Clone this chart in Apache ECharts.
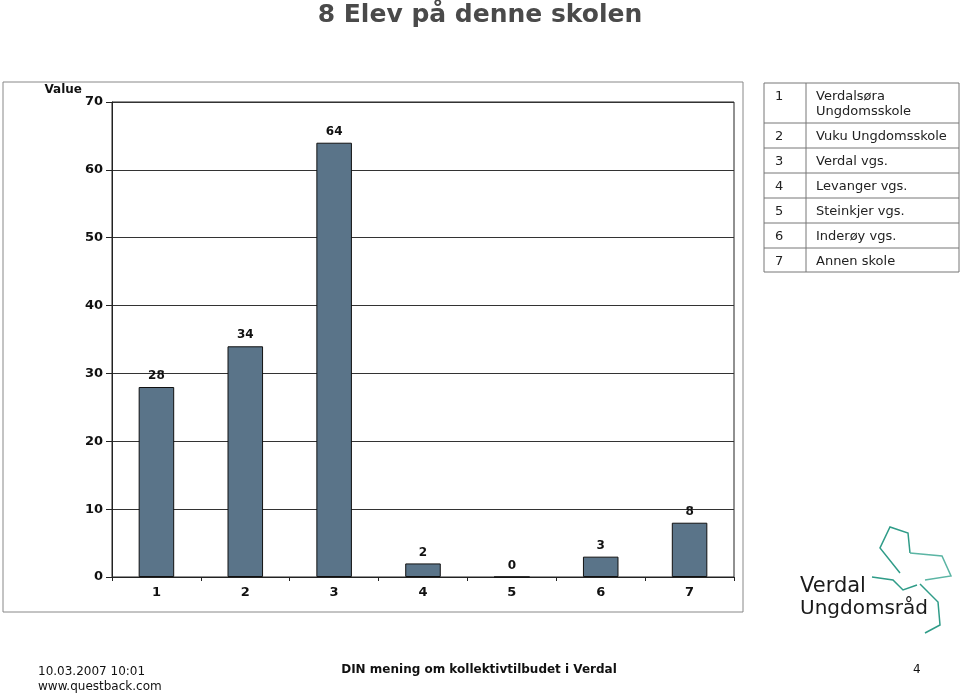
<!DOCTYPE html>
<html>
<head>
<meta charset="utf-8" />
<title>8 Elev på denne skolen</title>
<style>
html, body { margin: 0; width: 100%; height: 100%; overflow: hidden; background: #fff; }
#main { width: 960px; height: 693px; }
</style>
</head>
<body>
<div id="main"></div>
<script src="https://cdn.jsdelivr.net/npm/echarts@6/dist/echarts.min.js"></script>
<script>
// data
var categories = ['1', '2', '3', '4', '5', '6', '7'];
var values = [28, 34, 64, 2, 0, 3, 8];
var yTicks = [0, 10, 20, 30, 40, 50, 60, 70];
var legendNumbers = ['1', '2', '3', '4', '5', '6', '7'];
var legendNames = ['Verdalsøra\nUngdomsskole', 'Vuku Ungdomsskole', 'Verdal vgs.', 'Levanger vgs.', 'Steinkjer vgs.', 'Inderøy vgs.', 'Annen skole'];

var font = 'DejaVu Sans, Verdana, sans-serif';
var chart = echarts.init(document.getElementById('main'));

// legend table built from legend arrays
var rowEdges = [83, 123, 148, 173, 198, 223, 248, 272];
var tableLeft = 764, tableMid = 806, tableRight = 959;
var table = [];
table.push({ type: 'rect', shape: { x: tableLeft, y: rowEdges[0], width: tableRight - tableLeft, height: rowEdges[7] - rowEdges[0] },
    style: { fill: '#fff', stroke: '#777', lineWidth: 1 } });
table.push({ type: 'line', shape: { x1: tableMid, y1: rowEdges[0], x2: tableMid, y2: rowEdges[7] }, style: { stroke: '#777', lineWidth: 1 } });
for (var i = 0; i < legendNames.length; i++) {
    if (i > 0) {
        table.push({ type: 'line', shape: { x1: tableLeft, y1: rowEdges[i], x2: tableRight, y2: rowEdges[i] }, style: { stroke: '#777', lineWidth: 1 } });
    }
    table.push({ type: 'text', x: 775, y: rowEdges[i] + 6, style: { text: legendNumbers[i], font: '13px ' + font, fill: '#222', lineHeight: 15 } });
    table.push({ type: 'text', x: 816, y: rowEdges[i] + 6, style: { text: legendNames[i], font: '13px ' + font, fill: '#222', lineHeight: 15 } });
}

// logo: text plus a rough outline of the star mark
var teal = '#2f9c88';
var logo = [
    { type: 'polyline', shape: { points: [[900, 573], [880, 548], [890, 527], [908, 533], [910, 553]] }, style: { stroke: teal, lineWidth: 1.5, fill: null } },
    { type: 'polyline', shape: { points: [[910, 553], [942, 556], [951, 576], [925, 580]] }, style: { stroke: '#5bb5a4', lineWidth: 1.5, fill: null } },
    { type: 'polyline', shape: { points: [[920, 584], [938, 602], [940, 625], [925, 633]] }, style: { stroke: teal, lineWidth: 1.5, fill: null } },
    { type: 'polyline', shape: { points: [[917, 585], [903, 590], [893, 580], [872, 577]] }, style: { stroke: teal, lineWidth: 1.5, fill: null } },
    { type: 'text', x: 800, y: 576, style: { text: 'Verdal', font: '21px ' + font, fill: '#1a1a1a' } },
    { type: 'text', x: 800, y: 599, style: { text: 'Ungdomsråd', font: '20px ' + font, fill: '#1a1a1a' } }
];

var option = {
    animation: false,
    backgroundColor: '#fff',
    title: {
        text: '8 Elev på denne skolen',
        left: 'center',
        top: -2,
        textStyle: { fontFamily: font, fontSize: 25, fontWeight: 'bold', color: '#4a4a4a' }
    },
    grid: { left: 112, right: 226, top: 102, bottom: 116, show: true, borderColor: '#222', borderWidth: 1 },
    xAxis: {
        type: 'category',
        data: categories,
        axisLine: { lineStyle: { color: '#222', width: 1 } },
        axisTick: { show: true, length: 4, lineStyle: { color: '#222' } },
        axisLabel: { fontFamily: font, fontSize: 13, fontWeight: 'bold', color: '#111', margin: 9 }
    },
    yAxis: {
        type: 'value',
        min: yTicks[0],
        max: yTicks[yTicks.length - 1],
        interval: 10,
        name: 'Value',
        nameLocation: 'end',
        nameGap: 4,
        nameTextStyle: { fontFamily: font, fontSize: 12, fontWeight: 'bold', color: '#111', align: 'right', padding: [0, 30, 0, 0] },
        axisLine: { show: true, lineStyle: { color: '#222' } },
        axisTick: { show: true, length: 6, lineStyle: { color: '#222' } },
        axisLabel: { fontFamily: font, fontSize: 13, fontWeight: 'bold', color: '#111', margin: 9 },
        splitLine: { show: true, lineStyle: { color: '#333', width: 1 } }
    },
    series: [{
        type: 'bar',
        data: values,
        barWidth: '40%',
        itemStyle: { color: '#5a7489', borderColor: '#111', borderWidth: 1 },
        label: { show: true, position: 'top', fontFamily: font, fontSize: 12, fontWeight: 'bold', color: '#111', distance: 5 }
    }],
    graphic: [
        { type: 'rect', z: -10, shape: { x: 3, y: 82, width: 740, height: 530 }, style: { fill: null, stroke: '#888', lineWidth: 1 } },
        { type: 'group', children: table },
        { type: 'group', children: logo },
        { type: 'text', x: 38, y: 664, style: { text: '10.03.2007 10:01\nwww.questback.com', font: '12px ' + font, fill: '#111', lineHeight: 15 } },
        { type: 'text', x: 479, y: 664, style: { text: 'DIN mening om kollektivtilbudet i Verdal', font: 'bold 12px ' + font, fill: '#111', align: 'center' } },
        { type: 'text', x: 913, y: 664, style: { text: '4', font: '12px ' + font, fill: '#111' } }
    ]
};
chart.setOption(option);
</script>
</body>
</html>
